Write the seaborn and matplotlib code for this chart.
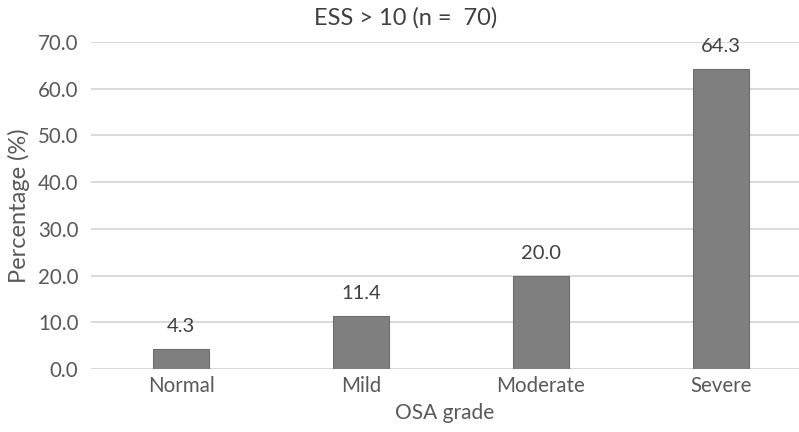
import matplotlib
matplotlib.use("Agg")
import matplotlib.pyplot as plt
import seaborn as sns
import pandas as pd

categories = ["Normal", "Mild", "Moderate", "Severe"]
percentages = [4.3, 11.4, 20.0, 64.3]
yticks = [0, 10, 20, 30, 40, 50, 60, 70]

sns.set_theme(style="white")
plt.rcParams["font.family"] = ["Lato", "DejaVu Sans"]

text_color = "#595959"
df = pd.DataFrame({"grade": categories, "pct": percentages})

fig = plt.figure(figsize=(7.99, 4.32), dpi=100)
ax = fig.add_axes([91 / 799, 1 - 369 / 432, 1 - 91 / 799, (369 - 42) / 432])

sns.barplot(data=df, x="grade", y="pct", color="#7f7f7f", width=0.31,
            saturation=1, edgecolor="#6e6e6e", linewidth=0.8, ax=ax, zorder=3)

ax.set_ylim(0, 70)
ax.set_xlim(-0.5, 3.5 - 12 / 180)
ax.set_yticks(yticks)
ax.set_yticklabels([f"{v:.1f}" for v in yticks])
ax.yaxis.grid(True, color="#d9d9d9", linewidth=1.4, zorder=0)
ax.set_axisbelow(True)
for s in ax.spines.values():
    s.set_visible(False)
ax.axhline(0, color="#d9d9d9", linewidth=1.4, zorder=1)
ax.tick_params(axis="both", length=0, labelsize=14.8, colors=text_color)
ax.tick_params(axis="x", pad=5)
ax.tick_params(axis="y", pad=9)

for i, v in enumerate(percentages):
    ax.annotate(f"{v:.1f}", (i, v), xytext=(0, 10), textcoords="offset points",
                ha="center", va="bottom", fontsize=14.5, color="#404040")

ax.set_xlabel("OSA grade", fontsize=15, color=text_color, labelpad=5)
ax.set_ylabel("Percentage (%)", fontsize=17, color=text_color, labelpad=6)
fig.text(406 / 799, 1 - 18 / 432, "ESS > 10 (n =  70)", ha="center", va="center",
         fontsize=17, color="#404040")

fig.savefig("out.png", dpi=100, facecolor="white")
